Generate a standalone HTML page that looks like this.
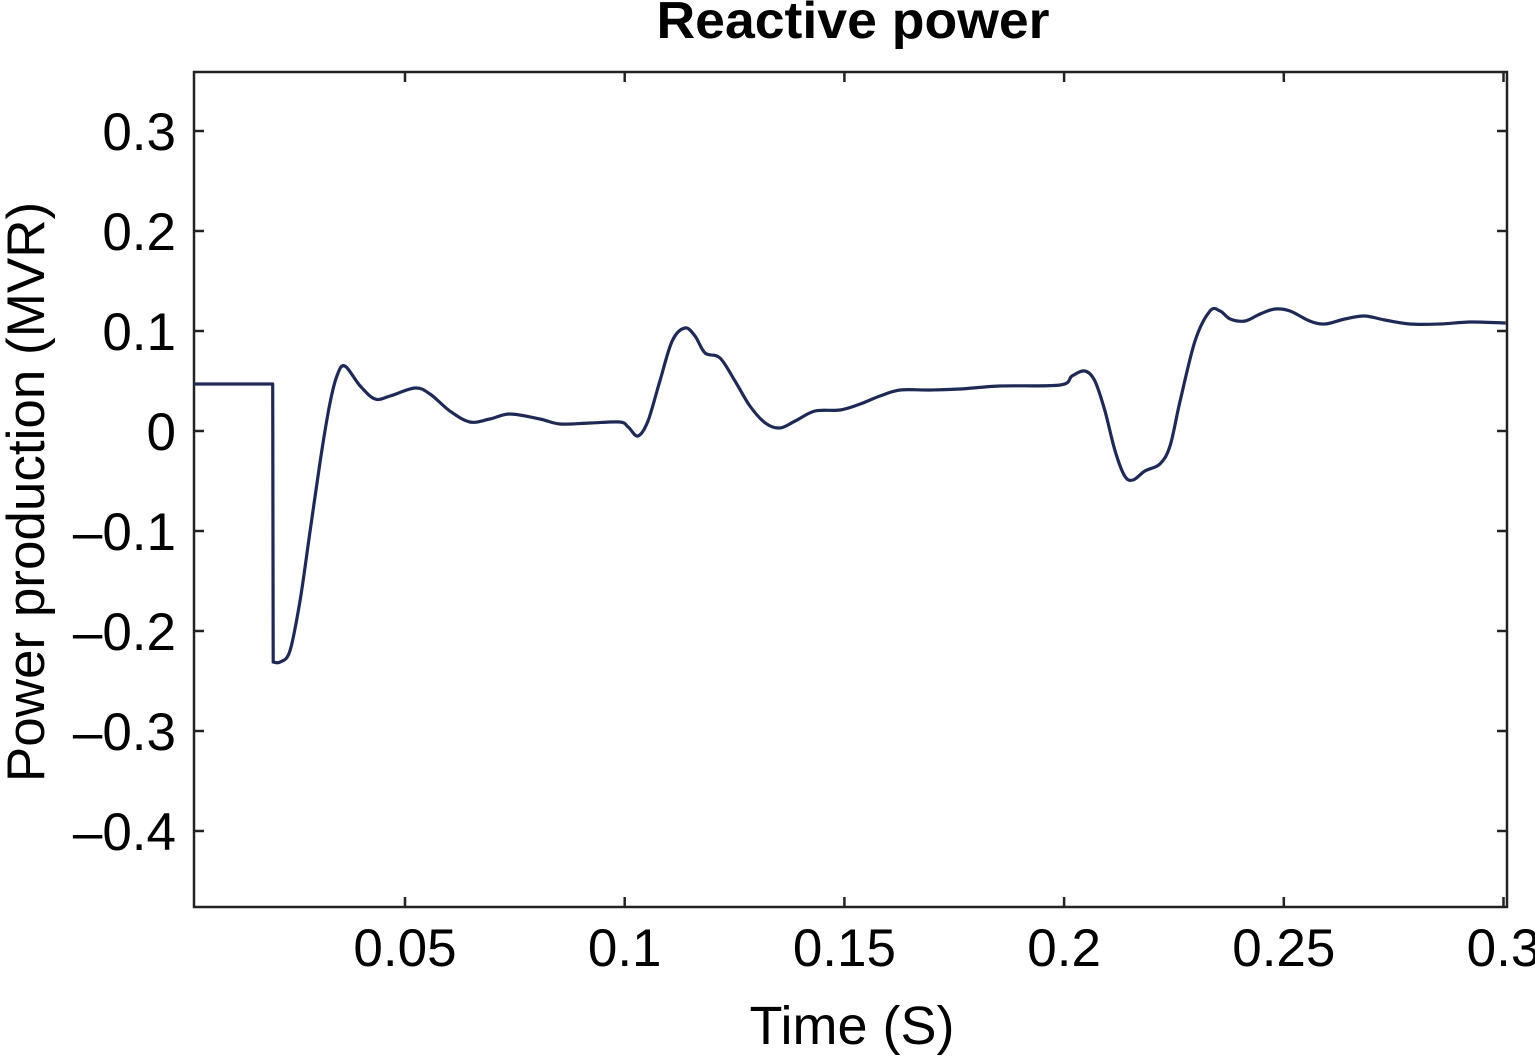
<!DOCTYPE html>
<html><head><meta charset="utf-8"><style>
html,body{margin:0;padding:0;background:#fff;}
svg{display:block;font-family:"Liberation Sans",sans-serif;}
</style></head><body>
<svg id="chart" width="1535" height="1057" viewBox="0 0 1535 1057">
<text x="853" y="38" text-anchor="middle" font-size="52" font-weight="bold" textLength="393" lengthAdjust="spacingAndGlyphs">Reactive power</text>
<rect x="194" y="72" width="1313" height="835" fill="none" stroke="#222" stroke-width="2.5"/>
<g id="ticks"></g>
<path id="line" fill="none" stroke="#1e2a55" stroke-width="3.2" stroke-linejoin="round"/>
<text x="852" y="1044" text-anchor="middle" font-size="54">Time (S)</text>
<text transform="translate(44,492) rotate(-90)" text-anchor="middle" font-size="53">Power production (MVR)</text>
</svg>
<script>
const times=[0.002,0.0199,0.0200,0.0216,0.0238,0.0261,0.0284,0.0307,0.0328,0.0345,0.0363,0.0398,0.0432,0.0466,0.0523,0.0557,0.0602,0.0648,0.0693,0.0739,0.0807,0.0853,0.0921,0.0989,0.1008,0.1030,0.1053,0.1080,0.1108,0.1137,0.1160,0.1183,0.1217,0.1251,0.1285,0.1320,0.1353,0.1388,0.1433,0.1490,0.1536,0.1581,0.1627,0.1695,0.1763,0.1854,0.1991,0.2018,0.2047,0.2070,0.2093,0.2116,0.2138,0.2157,0.2184,0.2218,0.2241,0.2264,0.2298,0.2332,0.2355,0.2378,0.2412,0.2446,0.2480,0.2514,0.2559,0.2594,0.2639,0.2684,0.2730,0.2787,0.2855,0.2924,0.3005];
const values=[0.047,0.047,-0.231,-0.231,-0.22,-0.17,-0.10,-0.03,0.025,0.055,0.065,0.045,0.032,0.035,0.043,0.037,0.02,0.009,0.012,0.017,0.012,0.007,0.008,0.009,0.004,-0.005,0.01,0.05,0.09,0.103,0.095,0.078,0.073,0.05,0.025,0.008,0.003,0.01,0.02,0.021,0.027,0.035,0.041,0.041,0.042,0.045,0.046,0.055,0.06,0.05,0.02,-0.02,-0.045,-0.049,-0.04,-0.033,-0.015,0.03,0.09,0.12,0.12,0.112,0.11,0.117,0.122,0.12,0.11,0.107,0.112,0.115,0.111,0.107,0.107,0.109,0.108];
const xTicks=[0.05,0.1,0.15,0.2,0.25,0.3];
const xTickLabels=["0.05","0.1","0.15","0.2","0.25","0.3"];
const yTicks=[0.3,0.2,0.1,0,-0.1,-0.2,-0.3,-0.4];
const yTickLabels=["0.3","0.2","0.1","0","\u20130.1","\u20130.2","\u20130.3","\u20130.4"];
const X=t=>185.3+4394*t;
const Y=v=>431-1000*v;
const ns="http://www.w3.org/2000/svg";
const g=document.getElementById('ticks');
xTicks.forEach((t,i)=>{
  const x=X(t);
  [[907,897],[72,82]].forEach(([a,b])=>{
    const l=document.createElementNS(ns,'line');
    
    
    l.setAttribute('x1',x);l.setAttribute('x2',x);l.setAttribute('y1',a);l.setAttribute('y2',b);
    l.setAttribute('stroke','#222');l.setAttribute('stroke-width','2.5');g.appendChild(l);
  });
  const tx=document.createElementNS(ns,'text');
  
  
  tx.setAttribute('x',x);tx.setAttribute('y',966);tx.setAttribute('text-anchor','middle');tx.setAttribute('font-size','53');
  tx.textContent=xTickLabels[i];g.appendChild(tx);
});
yTicks.forEach((v,i)=>{
  const y=Y(v);
  [[194,204],[1507,1497]].forEach(([a,b])=>{
    const l=document.createElementNS(ns,'line');
    
    
    l.setAttribute('x1',a);l.setAttribute('x2',b);l.setAttribute('y1',y);l.setAttribute('y2',y);
    l.setAttribute('stroke','#222');l.setAttribute('stroke-width','2.5');g.appendChild(l);
  });
  const tx=document.createElementNS(ns,'text');
  
  
  tx.setAttribute('x',176);tx.setAttribute('y',y+19);tx.setAttribute('text-anchor','end');tx.setAttribute('font-size','53');
  tx.textContent=yTickLabels[i];g.appendChild(tx);
});
const P=times.map((t,i)=>[X(t),Y(values[i])]);
let d='M'+P[0][0].toFixed(1)+','+P[0][1].toFixed(1)+'L'+P[1][0].toFixed(1)+','+P[1][1].toFixed(1)+'L'+P[2][0].toFixed(1)+','+P[2][1].toFixed(1);
for(let i=2;i<P.length-1;i++){
  const p0=P[Math.max(i-1,2)],p1=P[i],p2=P[i+1],p3=P[Math.min(i+2,P.length-1)];
  const c1=[p1[0]+(p2[0]-p0[0])/6,p1[1]+(p2[1]-p0[1])/6];
  const c2=[p2[0]-(p3[0]-p1[0])/6,p2[1]-(p3[1]-p1[1])/6];
  d+='C'+c1[0].toFixed(1)+','+c1[1].toFixed(1)+' '+c2[0].toFixed(1)+','+c2[1].toFixed(1)+' '+p2[0].toFixed(1)+','+p2[1].toFixed(1);
}
document.getElementById('line').setAttribute('d',d);
</script>
</body></html>
